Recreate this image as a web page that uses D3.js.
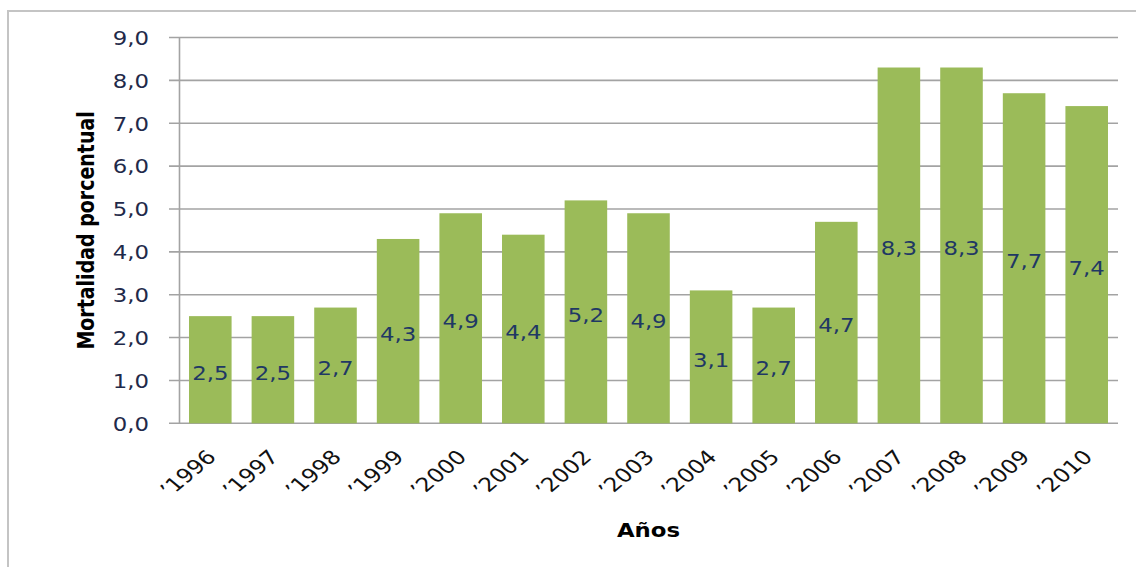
<!DOCTYPE html>
<html>
<head>
<meta charset="utf-8">
<script src="https://cdn.jsdelivr.net/npm/d3@7"></script>
<style>
  html, body { margin: 0; padding: 0; background: #fff; overflow: hidden; }
  text { font-family: "DejaVu Sans", Verdana, sans-serif; }
</style>
</head>
<body>
<svg id="chart" width="1136" height="567"></svg>
<script>
// Mortalidad porcentual por año
const categories = ["1996", "1997", "1998", "1999", "2000", "2001", "2002", "2003",
                    "2004", "2005", "2006", "2007", "2008", "2009", "2010"];
const mortality = [2.5, 2.5, 2.7, 4.3, 4.9, 4.4, 5.2, 4.9, 3.1, 2.7, 4.7, 8.3, 8.3, 7.7, 7.4];
const xTickLabels = categories.map(c => "\u2019" + c);
const yTicks = [0, 1, 2, 3, 4, 5, 6, 7, 8, 9];
const yTitle = "Mortalidad porcentual";
const xTitle = "Años";

const W = 1136, H = 567;
const plot = { left: 179, right: 1118, top: 37.5, bottom: 423.3 };
const SX = 1.2;           // wide type, as in the spreadsheet export
const fontSize = 19;

const es = d3.formatLocale({ decimal: ",", thousands: ".", grouping: [3], currency: ["", " €"] });
const fmt = es.format(".1f");

const svg = d3.select("#chart");

// outer chart frame
svg.append("rect")
  .attr("x", 8).attr("y", 11)
  .attr("width", W).attr("height", H)
  .attr("fill", "none")
  .attr("stroke", "#c4c4c4")
  .attr("stroke-width", 2);

const x = d3.scaleBand()
  .domain(categories)
  .range([plot.left, plot.right])
  .paddingInner(0.32)
  .paddingOuter(0.16);

const y = d3.scaleLinear()
  .domain([0, 9])
  .range([plot.bottom, plot.top]);

// horizontal gridlines (with the short outer tick on the left)
svg.append("g")
  .selectAll("line")
  .data(yTicks)
  .join("line")
  .attr("x1", plot.left - 10)
  .attr("x2", plot.right)
  .attr("y1", d => y(d))
  .attr("y2", d => y(d))
  .attr("stroke", "#a3a3a3")
  .attr("stroke-width", 1.6);

// value axis
const yAxisG = svg.append("g")
  .attr("transform", `translate(${plot.left},0)`)
  .call(d3.axisLeft(y).tickValues(yTicks).tickSize(0).tickSizeOuter(0).tickFormat(fmt));
yAxisG.select(".domain").attr("stroke", "#a3a3a3").attr("stroke-width", 1.6);
yAxisG.selectAll(".tick text")
  .attr("x", -30 / SX)
  .attr("dy", "0.36em")
  .attr("transform", `scale(${SX},1)`)
  .attr("fill", "#1f2a4a")
  .style("font-size", fontSize + "px")
  .style("font-family", '"DejaVu Sans", Verdana, sans-serif');

// bars
svg.append("g")
  .selectAll("rect")
  .data(mortality)
  .join("rect")
  .attr("x", (d, i) => x(categories[i]))
  .attr("width", x.bandwidth())
  .attr("y", d => y(d))
  .attr("height", d => y(0) - y(d))
  .attr("fill", "#9bbb59");

// value labels centred in each bar
svg.append("g")
  .selectAll("text")
  .data(mortality)
  .join("text")
  .attr("transform", (d, i) =>
    `translate(${x(categories[i]) + x.bandwidth() / 2},${y(d / 2)}) scale(${SX},1)`)
  .attr("dy", "0.52em")
  .attr("text-anchor", "middle")
  .attr("fill", "#1f3864")
  .style("font-size", fontSize + "px")
  .text(d => fmt(d));

// category labels, slanted
svg.append("g")
  .selectAll("text")
  .data(categories)
  .join("text")
  .attr("transform", (d, i) =>
    `translate(${x(d) + x.bandwidth() / 2 + 7},${plot.bottom + 35}) scale(${SX},1) rotate(-45)`)
  .attr("text-anchor", "end")
  .attr("fill", "#111")
  .style("font-size", "19.5px")
  .text((d, i) => xTickLabels[i]);

// axis titles
svg.append("text")
  .attr("transform", `translate(94,${(plot.top + plot.bottom) / 2}) scale(${SX},1) rotate(-90)`)
  .attr("text-anchor", "middle")
  .attr("fill", "#000")
  .style("font-size", fontSize + "px")
  .style("font-weight", "bold")
  .text(yTitle);

svg.append("text")
  .attr("transform", `translate(${(plot.left + plot.right) / 2},537) scale(${SX},1)`)
  .attr("text-anchor", "middle")
  .attr("fill", "#000")
  .style("font-size", fontSize + "px")
  .style("font-weight", "bold")
  .text(xTitle);
</script>
</body>
</html>
